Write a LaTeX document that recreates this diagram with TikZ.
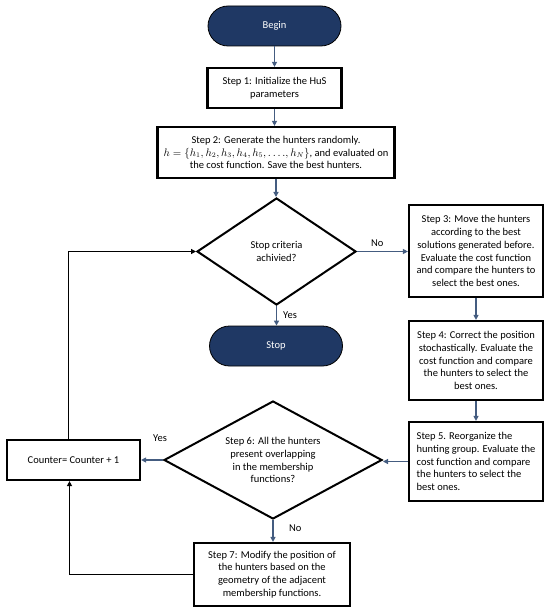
\documentclass[tikz,border=0pt]{standalone}
\usepackage{fontspec}
\setmainfont{Carlito}
\usetikzlibrary{shapes.geometric,arrows.meta}
\definecolor{navy}{RGB}{31,56,100}
\definecolor{arrowc}{RGB}{68,92,128}
\newcommand{\fsz}{\fontsize{10.5bp}{12.8bp}\selectfont}
\begin{document}
\begin{tikzpicture}[x=1bp,y=-1bp,
  box/.style={draw, line width=2.2bp, fill=white, align=center, inner sep=2bp, font=\fsz},
  pill/.style={draw=black, line width=0.8bp, fill=navy, text=white, rounded corners=20bp, minimum width=133bp, minimum height=40bp, font=\fsz},
  dia/.style={draw, diamond, line width=2bp, inner sep=0pt, align=center, font=\fsz},
  arr/.style={draw=arrowc, line width=1.6bp, -{Triangle[length=5bp,width=5bp]}},
  blk/.style={draw=black, line width=1.8bp, -{Triangle[length=5bp,width=5bp]}},
  lab/.style={font=\fsz, inner sep=0pt}]
\useasboundingbox (0,0) rectangle (550,612);
\node[pill] (begin) at (274.5,26) {Begin};
\node[box, minimum width=134bp, minimum height=40bp] (s1) at (274.5,88) {Step 1: Initialize the HuS\\parameters};
\node[box, minimum width=237bp, minimum height=51bp] (s2) at (276,152.5) {Step 2: Generate the hunters randomly.\\$h=\{h_1,h_2,h_3,h_4,h_5,\ldots.,h_N\}$, and evaluated on\\the cost function. Save the best hunters.};
\node[dia, minimum width=159bp, minimum height=107bp, aspect=1.5] (d1) at (276.5,251.5) {Stop criteria\\achivied?};
\node[pill] (stop) at (276,346) {Stop};
\node[box, minimum width=134bp, minimum height=92bp] (s3) at (476,251) {Step 3: Move the hunters\\according to the best\\solutions generated before.\\Evaluate the cost function\\and compare the hunters to\\select the best ones.};
\node[box, minimum width=134bp, minimum height=79bp] (s4) at (476,360.5) {Step 4: Correct the position\\stochastically. Evaluate the\\cost function and compare\\the hunters to select the\\best ones.};
\node[box, minimum width=134bp, minimum height=79bp, align=left] (s5) at (476,461.5) {Step 5. Reorganize the\\hunting group. Evaluate the\\cost function and compare\\the hunters to select the\\best ones.};
\node[dia, minimum width=218bp, minimum height=118bp, aspect=1.85] (d2) at (273,460) {Step 6: All the hunters\\present overlapping\\in the membership\\functions?};
\node[box, minimum width=133bp, minimum height=40bp] (cnt) at (73.5,460) {Counter= Counter + 1};
\node[box, minimum width=156bp, minimum height=63bp] (s7) at (272,574.5) {Step 7: Modify the position of\\the hunters based on the\\geometry of the adjacent\\membership functions.};
\draw[arr] (begin.south) -- (s1.north);
\draw[arr] (s1.south) -- (s1.south |- s2.north);
\draw[arr] (s2.south) -- (s2.south |- d1.north);
\draw[arr] (d1.south) -- (d1.south |- stop.north);
\draw[arr] (d1.east) -- (d1.east -| s3.west);
\draw[arr] (s3.south) -- (s4.north);
\draw[arr] (s4.south) -- (s5.north);
\draw[arr] (s5.west) -- (s5.west -| d2.east);
\draw[arr] (d2.west) -- (d2.west -| cnt.east);
\draw[arr] (d2.south) -- (d2.south |- s7.north);
\coordinate (ct) at ([xshift=-5bp]cnt.north);
\coordinate (cb) at ([xshift=-4bp]cnt.south);
\draw[blk] (ct) |- (d1.west);
\draw[blk] (s7.west) -| (cb);
\node[lab, anchor=west] (no1) at (371,243) {No};
\node[lab, anchor=west] (yes1) at (283,315) {Yes};
\node[lab, anchor=west] (yes2) at (153,438) {Yes};
\node[lab, anchor=west] (no2) at (289,528) {No};
\end{tikzpicture}
\end{document}
